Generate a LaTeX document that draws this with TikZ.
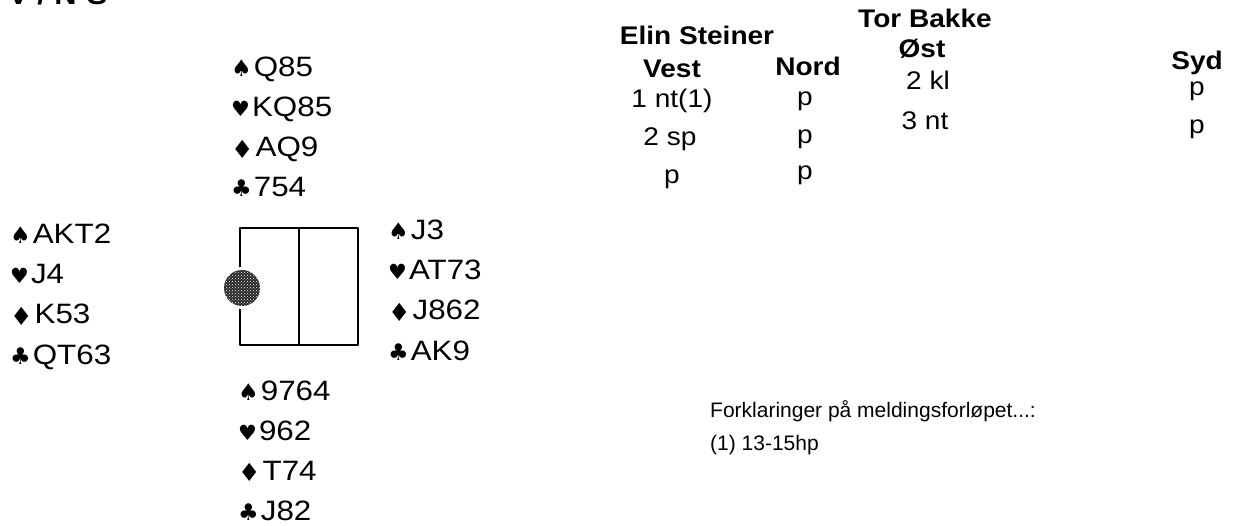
\documentclass[tikz,border=0pt]{standalone}
\usepackage{fontspec}
\setmainfont{Liberation Sans}
\newfontfamily\handfont[FakeStretch=1.12]{Liberation Sans}
\newfontfamily\bidfont[FakeStretch=1.1]{Liberation Sans}
\newfontfamily\suitfont{DejaVu Sans}
\usetikzlibrary{patterns,positioning}
\tikzset{
  dealbase/.style={
    x=1pt, y=-1pt,
    line cap=round, line join=round,
  },
  handrow/.style={anchor=base west, inner sep=0pt,
    font=\handfont\fontsize{28}{30}\selectfont},
  bidhead/.style={anchor=base, inner sep=0pt,
    font=\bidfont\bfseries\fontsize{25.5}{28}\selectfont},
  bidcall/.style={anchor=base, inner sep=0pt,
    font=\bidfont\fontsize{25.5}{28}\selectfont},
  notetext/.style={anchor=base west, inner sep=0pt,
    font=\fontsize{21}{24}\selectfont},
}
\newcommand{\suit}[3][23]{\raisebox{#2}{\suitfont\fontsize{#1}{24}\selectfont#3}\hspace{2pt}}
% prefix, x, first baseline, spades, hearts, diamonds, clubs
\newcommand{\hand}[7]{%
  \node[handrow] (#1s) at (#2,#3) {\suit{0pt}{♠}#4};
  \node[handrow] (#1h) at (#2,{#3+40}) {\suit[21]{0pt}{♥}#5};
  \node[handrow] (#1d) at (#2,{#3+80}) {\suit[25]{-1.5pt}{♦}#6};
  \node[handrow] (#1c) at (#2,{#3+120}) {\suit{0pt}{♣}#7};}

\begin{document}
\begin{tikzpicture}
        [dealbase]
        \useasboundingbox (0,0) rectangle (1239,526);
        \node[anchor=base west, inner sep=0pt, font=\bidfont\bfseries\fontsize{28}{30}\selectfont] (vuln) at (8,5) {V / N-S};
        % the four hands
        \hand{n}{231}{77}{Q85}{KQ85}{AQ9}{754}
        \hand{w}{10}{244}{AKT2}{J4}{K53}{QT63}
        \hand{e}{388}{240}{J3}{AT73}{J862}{AK9}
        \hand{s}{238}{400}{9764}{962}{T74}{J82}
        % table and dealer
        \draw[line width=1.5pt] (240,228) rectangle (358,345);
        \draw[line width=1.5pt] (299,228) -- (299,345);
        \fill[white] (242,288) circle (21);
        \fill[black!85] (242,288) circle (18);
        \fill[pattern=crosshatch dots, pattern color=white] (242,288) circle (18);
        % bidding
        \node[bidhead] (westname) at (697,45) {Elin Steiner};
        \node[bidhead] (eastname) at (925,28) {Tor Bakke};
        \node[bidhead] (vest) at (672,78) {Vest};
        \node[bidhead] (nord) at (808,76) {Nord};
        \node[bidhead] (ost) at (922,58) {Øst};
        \node[bidhead] (syd) at (1197,70) {Syd};
        \node[bidcall] (v1) at (672,108) {1 nt(1)};
        \node[bidcall] (v2) at (670,146) {2 sp};
        \node[bidcall] (v3) at (672,184) {p};
        \node[bidcall] (n1) at (805,106) {p};
        \node[bidcall] (n2) at (805,144) {p};
        \node[bidcall] (n3) at (805,180) {p};
        \node[bidcall] (o1) at (928,90) {2 kl};
        \node[bidcall] (o2) at (925,130) {3 nt};
        \node[bidcall] (s1) at (1197,96) {p};
        \node[bidcall] (s2) at (1197,134) {p};
        % notes
        \node[notetext] (notehead) at (710,417) {Forklaringer på meldingsforløpet...:};
        \node[notetext] (note1) at (710,450) {(1) 13-15hp};
\end{tikzpicture}
\end{document}
